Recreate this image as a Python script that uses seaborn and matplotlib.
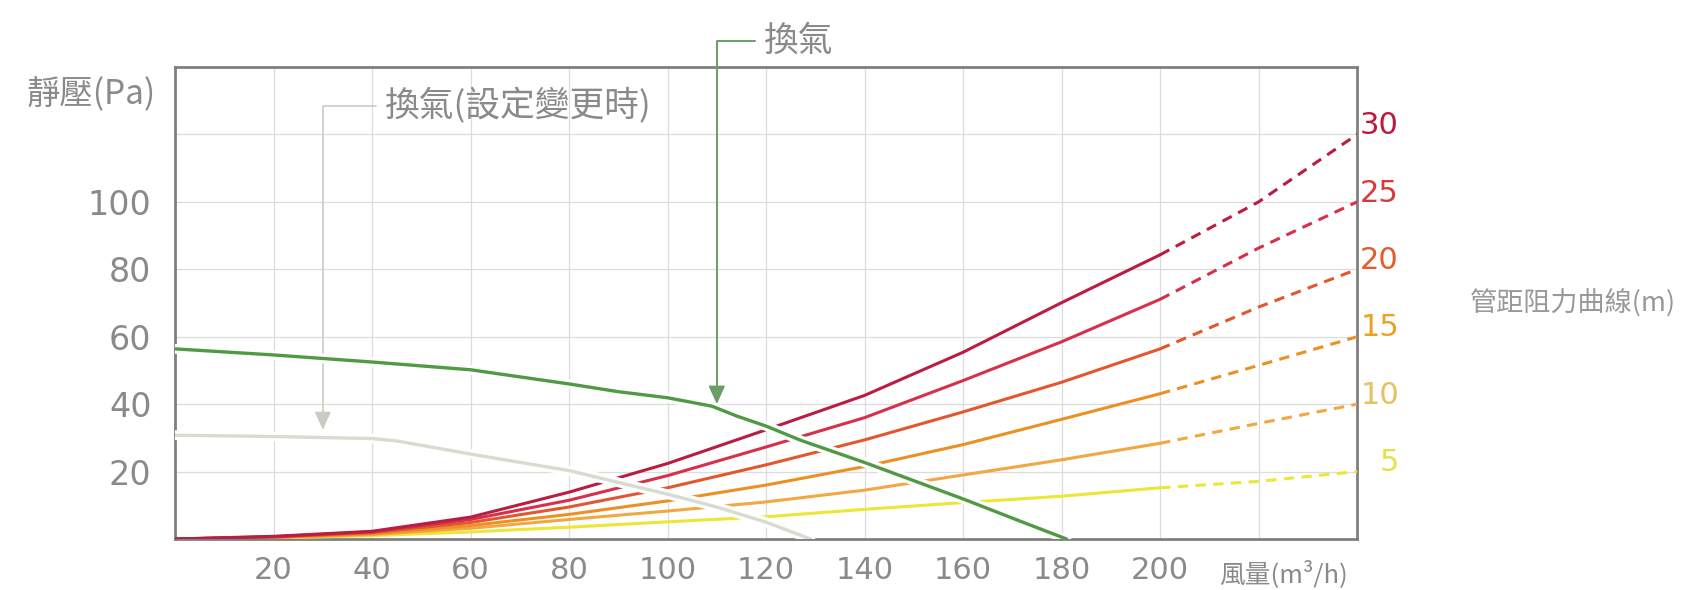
import numpy as np
import pandas as pd
import matplotlib
matplotlib.use("Agg")
import matplotlib.pyplot as plt
import matplotlib.patheffects as pe
import seaborn as sns

# ── Data ─────────────────────────────────────────────────────────────────────
FLOW     = [0, 20, 40, 60, 80, 100, 120, 140, 160, 180, 200]   # solid part
FLOW_EXT = [200, 220, 240]                                      # dashed part
LENGTHS  = [30, 25, 20, 15, 10, 5]                              # duct length (m)

R30 = [0, 0.8, 2.3, 6.5, 13.9, 22.4, 32.4, 42.6, 55.4, 70.1, 84.3]
R25 = [0, 0.7, 2.1, 5.8, 11.5, 18.8, 27.3, 36.0, 47.0, 58.5, 71.1]
R20 = [0, 0.6, 1.9, 4.9, 9.5, 15.2, 22.0, 29.4, 37.7, 46.5, 56.4]
R15 = [0, 0.5, 1.6, 4.0, 7.3, 11.3, 16.0, 21.5, 28.0, 35.5, 43.1]
R10 = [0, 0.4, 1.3, 3.2, 5.8, 8.3, 11.0, 14.5, 19.0, 23.5, 28.4]
R5  = [0, 0.3, 1.0, 2.1, 3.5, 5.1, 6.6, 8.8, 10.8, 12.7, 15.2]

R30_EXT = [84.3, 100.0, 120.0]
R25_EXT = [71.1, 86.3, 100.0]
R20_EXT = [56.4, 68.8, 80.0]
R15_EXT = [43.1, 51.5, 60.0]
R10_EXT = [28.4, 34.3, 40.0]
R5_EXT  = [15.2, 17.1, 20.0]

FAN_FLOW = [0, 20, 40, 60, 80, 90, 100, 109, 114, 120, 127, 140, 160, 170, 181]
FAN_P    = [56.4, 54.6, 52.5, 50.2, 46.0, 43.7, 41.9, 39.4, 36.5, 33.5, 29.3,
            22.7, 11.9, 6.2, 0]

LOW_FLOW = [0, 20, 40, 45, 50, 60, 80, 100, 110, 120, 129]
LOW_P    = [30.8, 30.4, 29.8, 29.1, 27.8, 25.2, 20.3, 13.3, 9.5, 5.0, 0]

XTICKS  = [20, 40, 60, 80, 100, 120, 140, 160, 180, 200, 220]
XLABELS = ["20", "40", "60", "80", "100", "120", "140", "160", "180", "200", ""]
YTICKS  = [20, 40, 60, 80, 100, 120]
YLABELS = ["20", "40", "60", "80", "100", ""]

# ── Style ────────────────────────────────────────────────────────────────────
LINE_COLORS  = {30: "#b81d42", 25: "#d6304a", 20: "#e2582e",
                15: "#ee8f22", 10: "#f2a742", 5: "#ece636"}
LABEL_COLORS = {30: "#c0183c", 25: "#d83a3a", 20: "#e85a28",
                15: "#f0a020", 10: "#e8c060", 5: "#e6e040"}
GREEN, GREEN_LEAD = "#4f9a42", "#6a9e66"
LIGHT, LIGHT_LEAD = "#d6dccf", "#c8cdc3"
TEXT  = "#8a8a8a"
CJK   = ["Noto Sans CJK TC", "DejaVu Sans"]

sns.set_theme(style="white")
plt.rcParams["font.family"] = ["DejaVu Sans", "Noto Sans CJK TC"]

# ── Long table for seaborn ───────────────────────────────────────────────────
solid = dict(zip(LENGTHS, [R30, R25, R20, R15, R10, R5]))
ext   = dict(zip(LENGTHS, [R30_EXT, R25_EXT, R20_EXT, R15_EXT, R10_EXT, R5_EXT]))
rows = []
for L in LENGTHS:
    rows += [(x, y, L, "solid") for x, y in zip(FLOW, solid[L])]
    rows += [(x, y, L, "ext") for x, y in zip(FLOW_EXT, ext[L])]
df = pd.DataFrame(rows, columns=["flow", "pressure", "length", "part"])

# ── Figure ───────────────────────────────────────────────────────────────────
fig = plt.figure(figsize=(16.85, 5.9), dpi=100)
ax = fig.add_axes([0.1039, 0.0864, 0.7015, 0.800])

sns.lineplot(data=df, x="flow", y="pressure", hue="length", style="part",
             palette=LINE_COLORS, dashes={"solid": "", "ext": (3.4, 2.4)},
             estimator=None, linewidth=2.2, legend=False, ax=ax, zorder=3)

halo = [pe.Stroke(linewidth=7, foreground="white"), pe.Normal()]
sns.lineplot(x=LOW_FLOW, y=LOW_P, color=LIGHT, linewidth=2.4,
             path_effects=halo, zorder=4, ax=ax)
sns.lineplot(x=FAN_FLOW, y=FAN_P, color=GREEN, linewidth=2.4,
             path_effects=halo, zorder=5, ax=ax)

ax.set_xlim(0, 240)
ax.set_ylim(0, 140)
ax.set_xticks(XTICKS, XLABELS)
ax.set_yticks(YTICKS, YLABELS)
ax.set_xlabel("")
ax.set_ylabel("")
ax.grid(True, color="#dcdcdc", linewidth=0.9)
ax.set_axisbelow(True)
ax.tick_params(length=0, labelcolor=TEXT)
ax.tick_params(axis="x", pad=12, labelsize=22)
ax.tick_params(axis="y", pad=17, labelsize=24)
for s in ax.spines.values():
    s.set_color("#808080")
    s.set_linewidth(2.0)

# right-hand length labels at the end of each dashed curve
for L in LENGTHS:
    ax.text(248.5, ext[L][-1] + 3.5, str(L), ha="right", va="center_baseline",
            fontsize=22, color=LABEL_COLORS[L], clip_on=False)

# axis titles
ax.text(-0.016, 0.941, "靜壓(Pa)", transform=ax.transAxes, ha="right",
        va="center", fontsize=24, color=TEXT, family=CJK)
ax.text(0.938, -0.075, "風量(m³/h)", transform=ax.transAxes, ha="center",
        va="center", fontsize=18.5, color=TEXT, family=CJK)
ax.text(1.0956, 0.498, "管距阻力曲線(m)", transform=ax.transAxes, ha="left",
        va="center", fontsize=19.5, color="#999999", family=CJK)

# call-outs
ax.annotate("換氣", xy=(110, 40), xytext=(119.5, 1.055),
            textcoords=("data", "axes fraction"), ha="left", va="center",
            fontsize=25, color=TEXT, family=CJK, annotation_clip=False,
            arrowprops=dict(arrowstyle="-|>,head_length=0.55,head_width=0.25",
                            color=GREEN_LEAD, lw=1.4, mutation_scale=20,
                            connectionstyle="angle,angleA=0,angleB=90,rad=0",
                            shrinkA=4, shrinkB=0))
ax.annotate("換氣(設定變更時)", xy=(30, 32.4), xytext=(42.6, 0.917),
            textcoords=("data", "axes fraction"), ha="left", va="center",
            fontsize=25, color=TEXT, family=CJK, annotation_clip=False,
            arrowprops=dict(arrowstyle="-|>,head_length=0.55,head_width=0.25",
                            color=LIGHT_LEAD, lw=1.2, mutation_scale=20,
                            connectionstyle="angle,angleA=0,angleB=90,rad=0",
                            shrinkA=4, shrinkB=0))

plt.savefig("out.png", dpi=100, facecolor="white")
plt.close()
